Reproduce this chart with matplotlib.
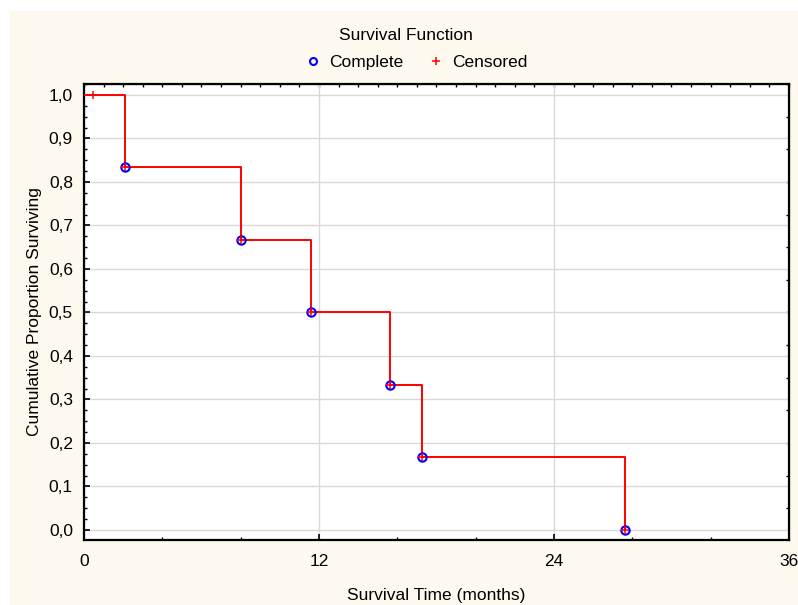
import matplotlib.pyplot as plt
from matplotlib.ticker import MultipleLocator, FuncFormatter
from matplotlib.lines import Line2D
from matplotlib.patches import Rectangle

# survival data
event_times = [2.1, 8.0, 11.6, 15.6, 17.25, 27.65]
event_surv = [0.8333, 0.6667, 0.5, 0.3333, 0.1667, 0.0]
censor_times = [0.46]
censor_surv = [1.0]
x_ticks = [0, 12, 24, 36]

plt.rcParams['font.family'] = ['Liberation Sans', 'DejaVu Sans']
fs = 12.5

fig = plt.figure(figsize=(7.98, 6.05), dpi=100, facecolor='white')
# cream panel behind the plot (white strip top and left)
fig.patches.append(Rectangle((10 / 798, 0), 1, 1 - 11 / 605, transform=fig.transFigure,
                             facecolor='#fdf9ee', edgecolor='none', zorder=-5))

ax = fig.add_axes([84 / 798, 1 - 540 / 605, (789 - 84) / 798, (540 - 84) / 605])
ax.set_facecolor('white')

# step curve starting at 1.0 from time 0
step_x = [0] + event_times
step_y = [1.0] + event_surv
ax.step(step_x, step_y, where='post', color='red', lw=1.4, zorder=3)

all_t = censor_times + event_times
all_s = censor_surv + event_surv
ax.plot(event_times, event_surv, 'o', mfc='none', mec='blue', ms=6, mew=1.5, zorder=4)
ax.plot(all_t, all_s, '+', color='red', ms=6, mew=1.1, zorder=5)

ax.set_xlim(0, 36)
ax.set_ylim(-0.023, 1.025)
ax.set_xticks(x_ticks)
ax.xaxis.set_minor_locator(MultipleLocator(4))
ax.yaxis.set_major_locator(MultipleLocator(0.1))
ax.yaxis.set_minor_locator(MultipleLocator(0.025))
ax.yaxis.set_major_formatter(FuncFormatter(lambda v, p: f'{v:.1f}'.replace('.', ',')))

ax.grid(True, which='major', color='#d9d9d9', lw=1, zorder=0)
ax.tick_params(which='both', direction='in', labelsize=fs, colors='black')
ax.tick_params(which='major', length=4, width=1.2, pad=8)
ax.tick_params(which='minor', length=2.5, width=1)
ax.tick_params(axis='x', pad=10)
for s in ax.spines.values():
    s.set_linewidth(1.6)

# extra ticks on top and right edges
top = ax.secondary_xaxis('top')
top.xaxis.set_major_locator(MultipleLocator(1))
top.tick_params(direction='in', length=2.5, width=1, labeltop=False)
right = ax.secondary_yaxis('right')
right.yaxis.set_major_locator(MultipleLocator(0.075, offset=-0.025))
right.tick_params(direction='in', length=2.5, width=1, labelright=False)

ax.set_xlabel('Survival Time (months)', fontsize=fs, labelpad=14)
ax.set_ylabel('Cumulative Proportion Surviving', fontsize=fs, labelpad=5)

fig.text(406 / 798, 1 - 35 / 605, 'Survival Function', fontsize=fs, ha='center', va='center')
handles = [Line2D([], [], ls='none', marker='o', mfc='none', mec='blue', ms=5, mew=1.5),
           Line2D([], [], ls='none', marker='+', color='red', ms=6, mew=1.1)]
leg = fig.legend(handles, ['Complete', 'Censored'],
                 loc='center', bbox_to_anchor=(415 / 798, 1 - 62 / 605), ncol=2, frameon=False,
                 fontsize=fs, handletextpad=0.3, columnspacing=1.3,
                 handlelength=1.2, borderpad=0)

fig.savefig('out.png', dpi=100)
